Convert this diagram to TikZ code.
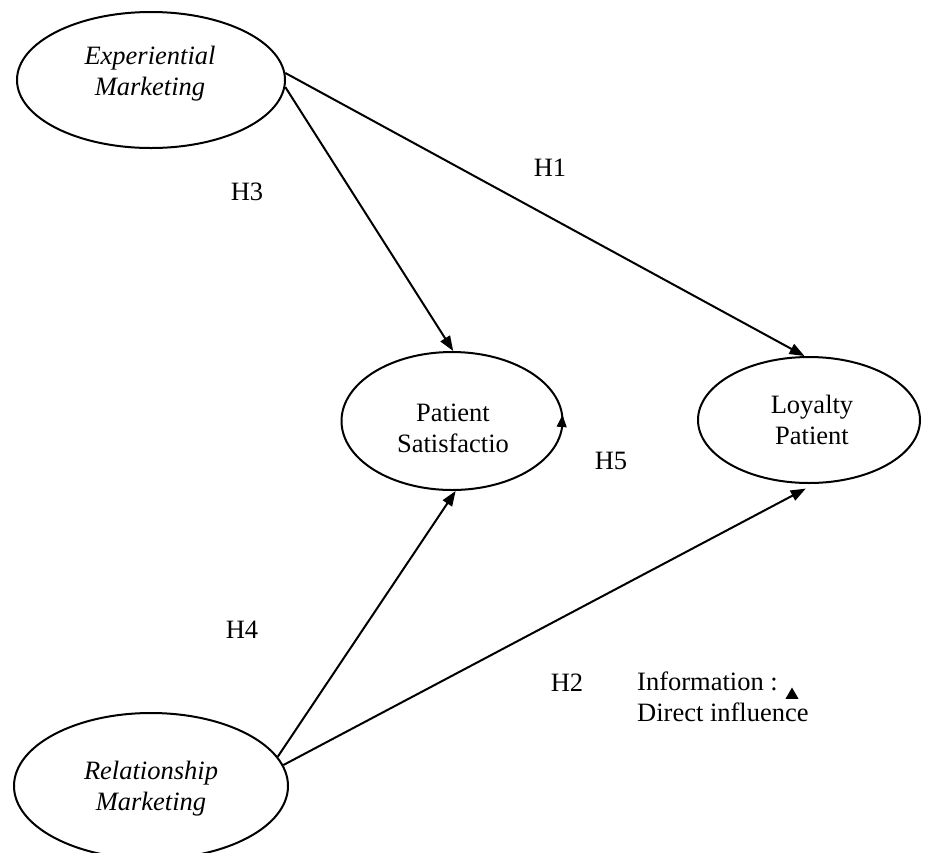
\documentclass[tikz,border=0pt]{standalone}
\usepackage{fontspec}
\setmainfont{Liberation Serif}
\usetikzlibrary{shapes.geometric,arrows.meta,calc}
\begin{document}
\begin{tikzpicture}[x=1pt,y=-1pt,
  oval/.style={draw, line width=2pt, ellipse, inner sep=0pt},
  txt/.style={font=\fontsize{26.5}{31}\selectfont, align=center, inner sep=0pt},
  arr/.style={line width=2pt, -{Triangle[length=15pt,width=11pt]}}]
\useasboundingbox (0,0) rectangle (926,852);
% ellipses
\node[oval, minimum width=268pt, minimum height=136pt] (em) at (151,80) {};
\node[oval, minimum width=274pt, minimum height=146pt] (rm) at (151,786) {};
\node[oval, minimum width=221pt, minimum height=138pt] (ps) at (452,421) {};
\node[oval, minimum width=222pt, minimum height=126pt] (ly) at (809,420) {};
% texts
\node[txt] (emt) at (150,74) {\itshape Experiential\\\itshape Marketing};
\node[txt] (rmt) at (151,789) {\itshape Relationship\\\itshape Marketing};
\node[txt] (pst) at (453,428) {Patient\\Satisfactio};
\node[txt] (lyt) at (812,420) {Loyalty\\Patient};
% connectors
\draw[arr] (em.3) -- (ly.94);
\draw[arr] (em.357) -- (ps.89);
\draw[arr] (rm.13) -- (ps.273);
\draw[arr, shorten >=10pt] (rm.9) -- (ly.275);
% H5 arrowhead only
\coordinate (h5b) at ($(ps.east)+(-2,8)$);
\coordinate (h5t) at ($(ps.east)+(-1,-6)$);
\draw[line width=1pt, -{Triangle[length=12pt,width=10pt]}] (h5b) -- (h5t);
% labels
\node[txt] (h1) at (550,168) {H1};
\node[txt] (h3) at (247,192) {H3};
\node[txt] (h5) at (611,461) {H5};
\node[txt] (h4) at (242,630) {H4};
\node[txt] (h2) at (567,683) {H2};
\node[txt, anchor=base west, align=left] (info) at (637,721) {Information :\\Direct influence};
\node[fill, regular polygon, regular polygon sides=3, inner sep=0pt, minimum size=15pt] (tri) at (792,695) {};
\end{tikzpicture}
\end{document}
